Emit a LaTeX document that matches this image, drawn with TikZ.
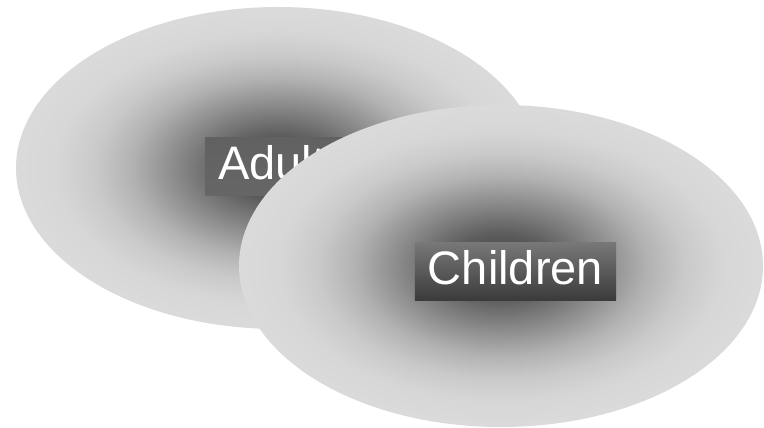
\documentclass[tikz,border=0pt]{standalone}
\usepackage{fontspec}
\setmainfont{Liberation Sans}
\usetikzlibrary{shapes.geometric}

\pgfdeclareradialshading{blobshade}{\pgfpoint{0bp}{0bp}}{%
  rgb(0bp)=(0.25,0.25,0.25);
  rgb(5bp)=(0.36,0.36,0.36);
  rgb(10bp)=(0.55,0.55,0.55);
  rgb(14bp)=(0.70,0.70,0.70);
  rgb(17.5bp)=(0.79,0.79,0.79);
  rgb(21bp)=(0.84,0.84,0.84);
  rgb(25bp)=(0.857,0.857,0.857);
  rgb(50bp)=(0.857,0.857,0.857)}

\tikzset{
  blob/.style={ellipse, inner sep=0pt, minimum width=524pt, minimum height=322pt, shading=blobshade},
  tag/.style={rectangle, inner xsep=13pt, inner ysep=0pt, text height=42pt, text depth=16pt,
    text=white, font=\fontsize{47}{56}\selectfont}
}

\begin{document}
\begin{tikzpicture}[x=1pt,y=1pt]
                    \useasboundingbox (0,0) rectangle (764,428);
                    \node[blob] (adults) at (278,260) {};
                    \node[tag, top color=black!62, bottom color=black!60] (adultstag) at (283.5,261) {Adults};
                    \node[blob] (children) at (501,162) {};
                    \node[tag, top color=black!53, bottom color=black!77] (childrentag) at (515.5,156.5) {Children};
                  \end{tikzpicture}
\end{document}
